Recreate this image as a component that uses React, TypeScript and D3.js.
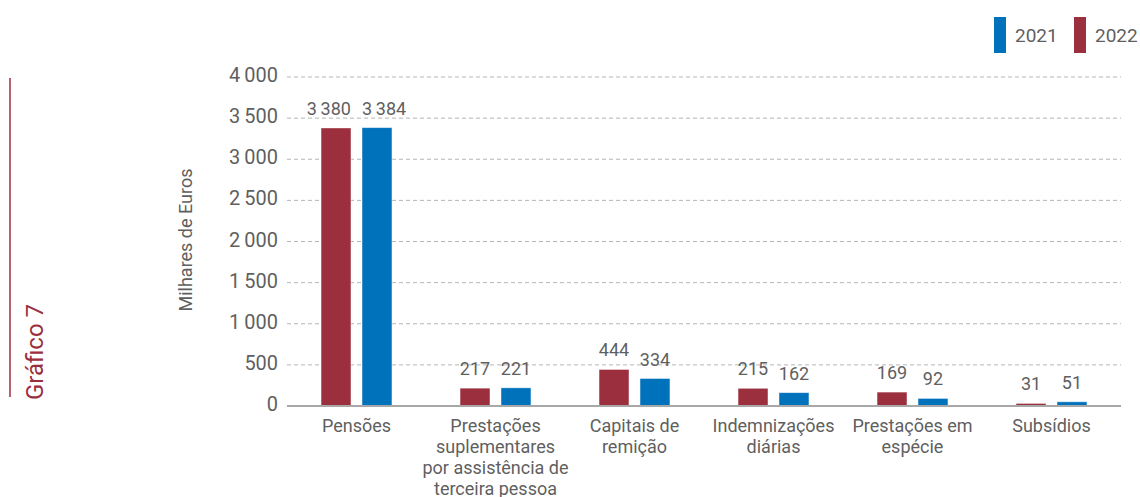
import React from "react";
import * as d3 from "d3";

const categories = [
  ["Pensões"],
  ["Prestações", "suplementares", "por assistência de", "terceira pessoa"],
  ["Capitais de", "remição"],
  ["Indemnizações", "diárias"],
  ["Prestações em", "espécie"],
  ["Subsídios"],
];
const seriesNames = ["2022", "2021"];
const values2022 = [3380, 217, 444, 215, 169, 31];
const values2021 = [3384, 221, 334, 162, 92, 51];
const valueLabels2022 = ["3\u2009380", "217", "444", "215", "169", "31"];
const valueLabels2021 = ["3\u2009384", "221", "334", "162", "92", "51"];
const yTicks = [0, 500, 1000, 1500, 2000, 2500, 3000, 3500, 4000];
const yTickLabels = ["0", "500", "1\u2009000", "1\u2009500", "2\u2009000", "2\u2009500", "3\u2009000", "3\u2009500", "4\u2009000"];
const legendItems = ["2021", "2022"];

const RED = "#9b2f3e";
const BLUE = "#0071bb";
const GREY = "#5f5f5f";
const FONT = "Roboto, 'Noto Sans', sans-serif";

const W = 1140;
const H = 497;

export default function App() {
  const x0 = d3
    .scaleBand<number>()
    .domain(d3.range(categories.length))
    .range([287, 1121])
    .paddingInner(0.49)
    .paddingOuter(0.245);
  const x1 = d3
    .scaleBand<string>()
    .domain(seriesNames)
    .range([0, x0.bandwidth()])
    .paddingInner(0.27);
  const y = d3.scaleLinear().domain([0, 4000]).range([406, 77]);

  const series = [
    { name: "2022", values: values2022, labels: valueLabels2022, color: RED, first: true },
    { name: "2021", values: values2021, labels: valueLabels2021, color: BLUE, first: false },
  ];
  const legendColor: Record<string, string> = { "2021": BLUE, "2022": RED };

  return (
    <svg
      width={W}
      height={H}
      style={{ position: "absolute", left: 0, top: 0, background: "#fff" }}
      fontFamily={FONT}
    >
      {/* side title */}
      <line x1={10} x2={10} y1={78} y2={397} stroke={RED} strokeWidth={1.5} />
      <text
        transform="translate(43,352) rotate(-90)"
        textAnchor="middle"
        fontSize={24}
        fill={RED}
      >
        Gráfico 7
      </text>

      {/* y axis title */}
      <text
        transform="translate(192,240) rotate(-90)"
        textAnchor="middle"
        fontSize={18}
        fill={GREY}
      >
        Milhares de Euros
      </text>

      {/* grid + tick labels */}
      {yTicks.map((t, i) => (
        <g key={t}>
          {t > 0 && (
            <line
              x1={287}
              x2={1121}
              y1={y(t)}
              y2={y(t)}
              stroke="#b5b5b5"
              strokeWidth={1}
              strokeDasharray="4,3"
            />
          )}
          <text
            transform={`translate(278,${y(t) + 5}) scale(0.95,1)`}
            textAnchor="end"
            fontSize={21}
            fill={GREY}
          >
            {yTickLabels[i]}
          </text>
        </g>
      ))}

      {/* bars */}
      {series.map((s) =>
        s.values.map((v, i) => {
          const bx = (x0(i) ?? 0) + (x1(s.name) ?? 0);
          const bw = x1.bandwidth();
          // wide labels are anchored to the outer edges so they don't collide
          const wide = s.labels[i].length > 3;
          const lx = wide ? (s.first ? bx + bw : bx) : bx + bw / 2;
          const anchor = wide ? (s.first ? "end" : "start") : "middle";
          return (
            <g key={s.name + i}>
              <rect
                x={bx}
                y={y(v)}
                width={bw}
                height={y(0) - y(v)}
                fill={s.color}
                stroke="#fff"
                strokeOpacity={0.5}
                strokeWidth={0.8}
              />
              <text
                x={lx}
                y={y(v) - 13}
                textAnchor={anchor}
                fontSize={18}
                fill={GREY}
              >
                {s.labels[i]}
              </text>
            </g>
          );
        })
      )}

      {/* baseline */}
      <line x1={287} x2={1121} y1={y(0)} y2={y(0)} stroke="#a8a8a8" strokeWidth={2} />

      {/* category labels */}
      {categories.map((lines, i) => (
        <text
          key={i}
          transform={`translate(${(x0(i) ?? 0) + x0.bandwidth() / 2},432)`}
          textAnchor="middle"
          fontSize={18}
          fill={GREY}
        >
          {lines.map((l, j) => (
            <tspan key={j} x={0} dy={j === 0 ? 0 : 21}>
              {l}
            </tspan>
          ))}
        </text>
      ))}

      {/* legend */}
      {legendItems.map((name, i) => (
        <g key={name} transform={`translate(${994 + i * 80},17)`}>
          <rect width={12} height={36} fill={legendColor[name]} />
          <text x={21} y={25} fontSize={19} fill={GREY}>
            {name}
          </text>
        </g>
      ))}
    </svg>
  );
}
